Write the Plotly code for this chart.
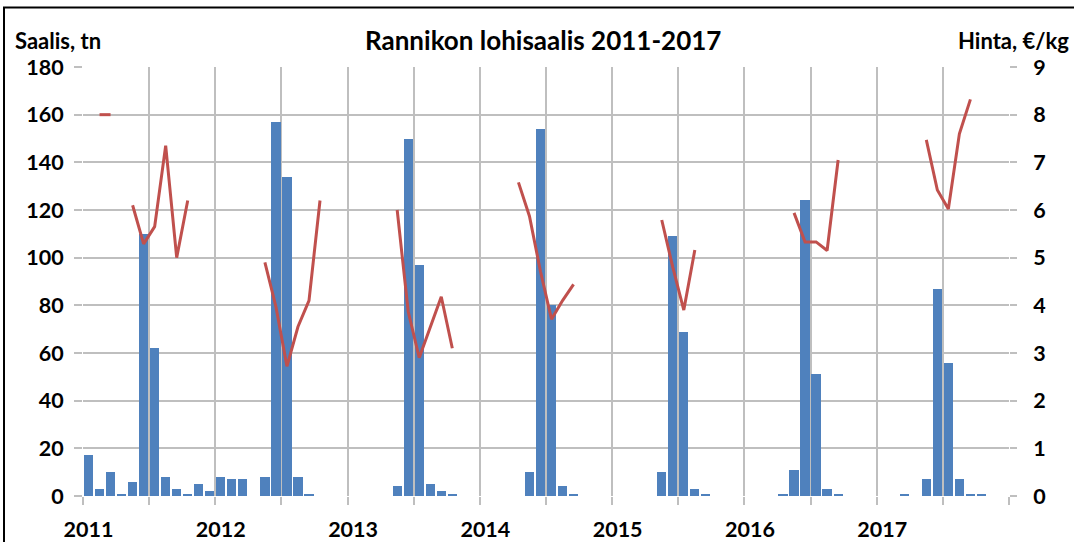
import plotly.graph_objects as go

years = ["2011", "2012", "2013", "2014", "2015", "2016", "2017"]

# Monthly catch (tonnes), Jan 2011 .. Dec 2017
catch_2011 = [17, 3, 10, 1, 6, 110, 62, 8, 3, 1, 5, 2]
catch_2012 = [8, 7, 7, 0, 8, 157, 134, 8, 1, 0, 0, 0]
catch_2013 = [0, 0, 0, 0, 4, 150, 97, 5, 2, 1, 0, 0]
catch_2014 = [0, 0, 0, 0, 10, 154, 80, 4, 1, 0, 0, 0]
catch_2015 = [0, 0, 0, 0, 10, 109, 69, 3, 1, 0, 0, 0]
catch_2016 = [0, 0, 0, 1, 11, 124, 51, 3, 1, 0, 0, 0]
catch_2017 = [0, 0, 1, 0, 7, 87, 56, 7, 1, 1, 0, 0]

# Monthly price (EUR/kg), None = no value
price_2011 = [None, 8.0, 8.0, None, 6.1, 5.29, 5.65, 7.35, 5.0, 6.2, None, None]
price_2012 = [None, None, None, None, 4.9, 3.97, 2.72, 3.55, 4.1, 6.2, None, None]
price_2013 = [None, None, None, None, 6.0, 3.87, 2.9, 3.55, 4.18, 3.1, None, None]
price_2014 = [None, None, None, 6.58, 5.87, 4.71, 3.71, 4.1, 4.44, None, None, None]
price_2015 = [None, None, None, None, 5.79, 4.8, 3.9, 5.16, None, None, None, None]
price_2016 = [None, None, None, None, 5.94, 5.33, 5.33, 5.15, 7.05, None, None, None]
price_2017 = [None, None, None, None, 7.47, 6.42, 6.02, 7.6, 8.32, None, None, None]

catch = catch_2011 + catch_2012 + catch_2013 + catch_2014 + catch_2015 + catch_2016 + catch_2017
price = price_2011 + price_2012 + price_2013 + price_2014 + price_2015 + price_2016 + price_2017

n_months = len(catch)
month_x = [i + 0.5 for i in range(n_months)]
year_label_x = [12 * k + 0.5 for k in range(len(years))]

W, H = 1074, 542
# plot area in window pixels: x 83..1009, y 67..496 (page margin removed below)
L, T = 83, 67
R = W - 1009
B = H - 496
pw, ph = W - L - R, H - T - B

def px(x):
    return (x - L) / pw

def py(y):
    return (H - B - y) / ph

FONT = "Lato"
GRID = "#bfbfbf"
TICKFONT = dict(family=FONT, size=21.5, color="black", weight="bold")

fig = go.Figure()
fig.add_trace(go.Bar(x=month_x, y=catch, marker=dict(color="#4f81bd", line=dict(width=0)),
                     width=0.84, name="Saalis", xaxis="x", yaxis="y"))
fig.add_trace(go.Scatter(x=month_x, y=price, mode="lines", line=dict(color="#c0504d", width=3),
                         connectgaps=False, name="Hinta", xaxis="x", yaxis="y2"))
# invisible trace to carry the year-label axis
fig.add_trace(go.Scatter(x=year_label_x, y=[0] * len(years), mode="markers",
                         marker=dict(opacity=0), hoverinfo="skip", xaxis="x2", yaxis="y"))

fig.update_layout(
    width=W, height=H,
    margin=dict(l=L, r=R, t=T, b=B, autoexpand=False),
    paper_bgcolor="white", plot_bgcolor="white",
    showlegend=False,
    font=dict(family=FONT, color="black"),
    xaxis=dict(
        range=[0, n_months], tickmode="linear", tick0=0, dtick=6,
        showticklabels=False, automargin=False,
        ticks="outside", ticklen=8, tickcolor=GRID, tickwidth=1.5,
        showgrid=True, gridcolor=GRID, gridwidth=1.5, zeroline=False, showline=False,
    ),
    xaxis2=dict(
        range=[0, n_months], overlaying="x", side="bottom", anchor="y", matches="x",
        tickmode="array", tickvals=year_label_x, ticktext=years,
        ticks="", showgrid=False, zeroline=False, showline=False, automargin=False,
        tickfont=TICKFONT, ticklabelstandoff=18,
    ),
    yaxis=dict(
        range=[0, 180], tickmode="linear", tick0=0, dtick=20, automargin=False,
        showgrid=True, gridcolor=GRID, gridwidth=1.5, zeroline=False, showline=False,
        ticks="outside", ticklen=8, tickcolor=GRID, tickwidth=1.5,
        tickfont=TICKFONT, ticklabelstandoff=6,
    ),
    yaxis2=dict(
        range=[0, 9], tickmode="linear", tick0=0, dtick=1, overlaying="y", side="right",
        showgrid=False, zeroline=False, showline=False, automargin=False,
        ticks="outside", ticklen=7, tickcolor=GRID, tickwidth=1.5,
        tickfont=TICKFONT, ticklabelstandoff=12,
    ),
    bargap=0,
)

fig.add_annotation(text="Rannikon lohisaalis 2011-2017", xref="paper", yref="paper",
                   x=px(543), y=py(40), xanchor="center", yanchor="middle", showarrow=False,
                   font=dict(family=FONT, size=26, color="black", weight="bold"))
fig.add_annotation(text="Saalis, tn", xref="paper", yref="paper",
                   x=px(13), y=py(40), xanchor="left", yanchor="middle", showarrow=False,
                   font=dict(family=FONT, size=22, color="black", weight="bold"))
fig.add_annotation(text="Hinta, €/kg", xref="paper", yref="paper",
                   x=px(1071), y=py(40), xanchor="right", yanchor="middle", showarrow=False,
                   font=dict(family=FONT, size=22, color="black", weight="bold"))

# chart frame (top and left edges visible)
fig.add_shape(type="rect", xref="paper", yref="paper", x0=px(4), x1=px(1090), y0=py(560), y1=py(7.5),
              line=dict(color="black", width=2), fillcolor="rgba(0,0,0,0)", layer="above")

fig.write_html("out.html", config={"displayModeBar": False},
               post_script="document.body.style.margin='0';")
